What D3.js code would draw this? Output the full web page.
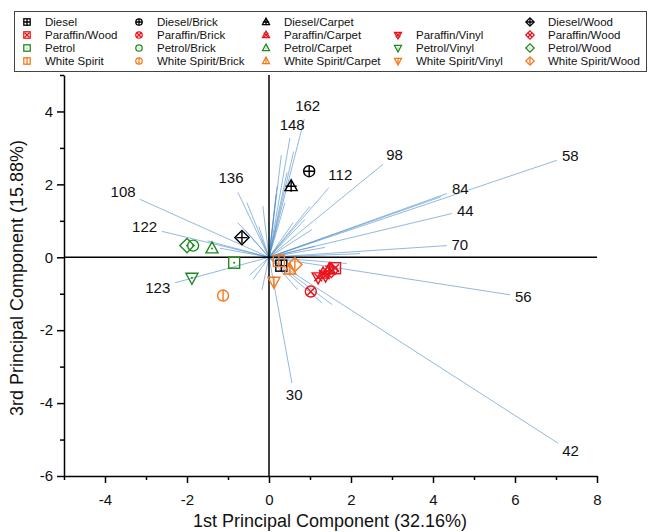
<!DOCTYPE html>
<html>
<head>
<meta charset="utf-8">
<script src="https://cdn.jsdelivr.net/npm/d3@7"></script>
<style>
  body { margin: 0; background: #fff; }
  text { font-family: "Liberation Sans", Arial, sans-serif; }
</style>
</head>
<body>
<div id="chart"></div>
<script>
// ---- data ----
const fuels = ["Diesel", "Paraffin", "Petrol", "White Spirit"]
const fuelColors = ["#000000", "#e8141c", "#1e8a1e", "#f5781e"]
const substrates = ["", "Brick", "Carpet", "Vinyl", "Wood"]

// legend text by column (substrate) then row (fuel); null = no entry
const legendText = [
  ["Diesel", "Paraffin/Wood", "Petrol", "White Spirit"],
  ["Diesel/Brick", "Paraffin/Brick", "Petrol/Brick", "White Spirit/Brick"],
  ["Diesel/Carpet", "Paraffin/Carpet", "Petrol/Carpet", "White Spirit/Carpet"],
  [null, "Paraffin/Vinyl", "Petrol/Vinyl", "White Spirit/Vinyl"],
  ["Diesel/Wood", "Paraffin/Wood", "Petrol/Wood", "White Spirit/Wood"]
]

// scores
const scoreFuel = ["Diesel", "Diesel", "Diesel", "Diesel",
  "Paraffin", "Paraffin", "Paraffin", "Paraffin", "Paraffin", "Paraffin", "Paraffin",
  "Petrol", "Petrol", "Petrol", "Petrol", "Petrol",
  "White Spirit", "White Spirit", "White Spirit", "White Spirit", "White Spirit"]
const scoreSubstrate = ["", "Brick", "Carpet", "Wood",
  "", "Brick", "Carpet", "Carpet", "Vinyl", "Vinyl", "Wood",
  "", "Brick", "Carpet", "Vinyl", "Wood",
  "", "Brick", "Carpet", "Vinyl", "Wood"]
const scoreX = [0.30, 0.98, 0.54, -0.66,
  1.61, 1.02, 1.32, 1.47, 1.20, 1.38, 1.52,
  -0.85, -1.85, -1.39, -1.88, -2.00,
  0.24, -1.12, 0.51, 0.12, 0.63]
const scoreY = [-0.23, 2.36, 1.95, 0.54,
  -0.30, -0.94, -0.45, -0.33, -0.55, -0.50, -0.36,
  -0.15, 0.32, 0.24, -0.56, 0.32,
  -0.10, -1.05, -0.34, -0.67, -0.20]

// loadings
const loadingLabel = ["58", "84", "", "44", "70", "56", "42", "30", "123", "122", "108",
  "136", "112", "98", "162", "148",
  "", "", "", "", "", "", "", "", "", "", "", "", "", "", "", "", "", "", "", "", "", "", "", "", "", "", ""]
const loadingX = [7.02, 4.34, 4.20, 4.46, 4.34, 5.88, 7.05, 0.56, -2.29, -2.61, -3.15,
  -0.76, 1.46, 2.78, 0.86, 0.51,
  1.37, 2.22, 1.90, 1.54, 1.29, -0.54, -0.76, -0.46, -0.15, 0.17, 0.59, 0.44, 0.20,
  0.39, 0.88, 1.05, 1.12, -0.59, -0.39, -0.17, 0.70, -1.50, -1.20, 0.30, 0.60, 1.00, -0.25]
const loadingY = [2.66, 1.75, 1.66, 1.20, 0.32, -1.03, -5.10, -3.45, -0.70, 0.71, 1.59,
  1.78, 1.91, 2.55, 3.79, 3.27,
  0.27, 0.10, -0.17, -1.30, -1.25, 1.50, 0.95, -0.48, 1.40, 1.72, 0.95, 2.33, 1.95,
  1.50, 1.04, 0.76, 0.30, 0.76, -0.61, -0.89, -0.89, 0.45, 0.25, 2.80, 2.90, 1.40, 0.85]

const xMajor = [-4, -2, 0, 2, 4, 6, 8]
const xMinor = [-5, -3, -1, 1, 3, 5, 7]
const yMajor = [-6, -4, -2, 0, 2, 4]
const yMinor = [-5, -3, -1, 1, 3, 5]

// ---- chart ----
const width = 648, height = 532
const x = d3.scaleLinear().domain([-5, 8]).range([64, 597])
const y = d3.scaleLinear().domain([-6, 5]).range([476, 75])
const color = d3.scaleOrdinal().domain(fuels).range(fuelColors)

const svg = d3.create("svg")
  .attr("width", width)
  .attr("height", height)
  .attr("viewBox", [0, 0, width, height])

// draws one marker into g, centred at 0,0
function marker(g, fuel, substrate, r) {
  const c = color(fuel)
  g.attr("fill", "none").attr("stroke", c).attr("stroke-width", r > 4 ? 1.4 : 1.3)
  if (substrate === "") {
    g.append("rect").attr("x", -r).attr("y", -r).attr("width", 2 * r).attr("height", 2 * r)
  } else if (substrate === "Brick") {
    g.append("circle").attr("r", r)
  } else if (substrate === "Carpet") {
    g.append("path").attr("d", `M0,${-r * 1.2}L${r * 1.1},${r * 0.8}L${-r * 1.1},${r * 0.8}Z`)
  } else if (substrate === "Vinyl") {
    g.append("path").attr("d", `M0,${r * 1.2}L${r * 1.1},${-r * 0.8}L${-r * 1.1},${-r * 0.8}Z`)
  } else {
    const d = r * 1.3
    g.append("path").attr("d", `M0,${-d}L${d},0L0,${d}L${-d},0Z`)
  }
  if (fuel === "Diesel") {
    g.append("path").attr("d", `M${-r},0H${r}M0,${-r}V${r}`)
  } else if (fuel === "Paraffin") {
    const k = r * 0.7
    g.append("path").attr("d", `M${-k},${-k}L${k},${k}M${-k},${k}L${k},${-k}`)
  } else if (fuel === "Petrol") {
    g.append("circle").attr("r", r * 0.18).attr("fill", c).attr("stroke", "none")
  } else {
    g.append("path").attr("d", `M0,${-r}V${r}`)
  }
}

// legend
const legendCols = [27, 139, 266, 398, 530]
const legendRows = [22, 35, 48, 61]
svg.append("rect")
  .attr("x", 14.5).attr("y", 11.5).attr("width", 632).attr("height", 60)
  .attr("fill", "#fff").attr("stroke", "#444").attr("stroke-width", 1)

const legend = svg.append("g")
legendText.forEach((col, ci) => {
  col.forEach((label, ri) => {
    if (label === null) return
    const item = legend.append("g").attr("transform", `translate(${legendCols[ci]},${legendRows[ri]})`)
    marker(item.append("g"), fuels[ri], substrates[ci], 3.2)
    item.append("text")
      .attr("x", 18).attr("dy", "0.35em")
      .attr("font-size", 11.5).attr("fill", "#111")
      .text(label)
  })
})

// loadings
const loadings = loadingX.map((v, i) => ({ label: loadingLabel[i], x: v, y: loadingY[i] }))
svg.append("g")
  .attr("stroke", "#4a8ac8")
  .attr("stroke-opacity", 0.6)
  .attr("stroke-width", 1)
  .selectAll("line")
  .data(loadings)
  .join("line")
  .attr("x1", x(0)).attr("y1", y(0))
  .attr("x2", d => x(d.x)).attr("y2", d => y(d.y))

svg.append("g")
  .attr("font-size", 15)
  .attr("fill", "#111")
  .attr("text-anchor", "middle")
  .selectAll("text")
  .data(loadings.filter(d => d.label !== ""))
  .join("text")
  .each(function (d) {
    const dx = x(d.x) - x(0), dy = y(d.y) - y(0)
    const len = Math.hypot(dx, dy)
    const ux = dx / len, uy = dy / len
    const off = 4 + Math.abs(ux) * d.label.length * 4.2 + Math.abs(uy) * 7
    d3.select(this)
      .attr("x", x(d.x) + ux * off)
      .attr("y", y(d.y) + uy * off)
  })
  .attr("dy", "0.35em")
  .text(d => d.label)

// zero lines
svg.append("line")
  .attr("x1", x(-5)).attr("x2", x(8)).attr("y1", y(0)).attr("y2", y(0))
  .attr("stroke", "#000").attr("stroke-width", 1.5)
svg.append("line")
  .attr("x1", x(0)).attr("x2", x(0)).attr("y1", y(-6)).attr("y2", y(5))
  .attr("stroke", "#000").attr("stroke-width", 1.5)

// scores
const scores = scoreX.map((v, i) => ({ fuel: scoreFuel[i], sub: scoreSubstrate[i], x: v, y: scoreY[i] }))
scores.forEach(d => {
  marker(svg.append("g").attr("transform", `translate(${x(d.x)},${y(d.y)})`), d.fuel, d.sub, 5.5)
})

// axes
const fmt = d => String(d)
const xAxis = g => g
  .attr("transform", `translate(0,${y(-6)})`)
  .call(d3.axisBottom(x).tickValues(xMajor).tickFormat(fmt).tickSize(7).tickPadding(11).tickSizeOuter(0))
  .call(g => g.append("g").call(d3.axisBottom(x).tickValues(xMinor).tickFormat("").tickSize(4).tickSizeOuter(0))
    .call(g => g.select(".domain").remove()))
const yAxis = g => g
  .attr("transform", `translate(${x(-5)},0)`)
  .call(d3.axisLeft(y).tickValues(yMajor).tickFormat(fmt).tickSize(7).tickPadding(4).tickSizeOuter(0))
  .call(g => g.append("g").call(d3.axisLeft(y).tickValues(yMinor).tickFormat("").tickSize(4).tickSizeOuter(0))
    .call(g => g.select(".domain").remove()))

svg.append("g").call(xAxis)
svg.append("g").call(yAxis)
svg.selectAll(".tick text").attr("font-size", 15).attr("font-family", "Liberation Sans, Arial, sans-serif").attr("fill", "#111")
svg.selectAll(".domain, .tick line").attr("stroke", "#000").attr("stroke-width", 1.5)

// titles
svg.append("text")
  .attr("x", 330).attr("y", 527)
  .attr("text-anchor", "middle").attr("font-size", 18).attr("fill", "#111")
  .text("1st Principal Component (32.16%)")
svg.append("text")
  .attr("transform", "translate(23,278) rotate(-90)")
  .attr("text-anchor", "middle").attr("font-size", 18).attr("fill", "#111")
  .text("3rd Principal Component (15.88%)")

d3.select("#chart").node().append(svg.node())
</script>
</body>
</html>
